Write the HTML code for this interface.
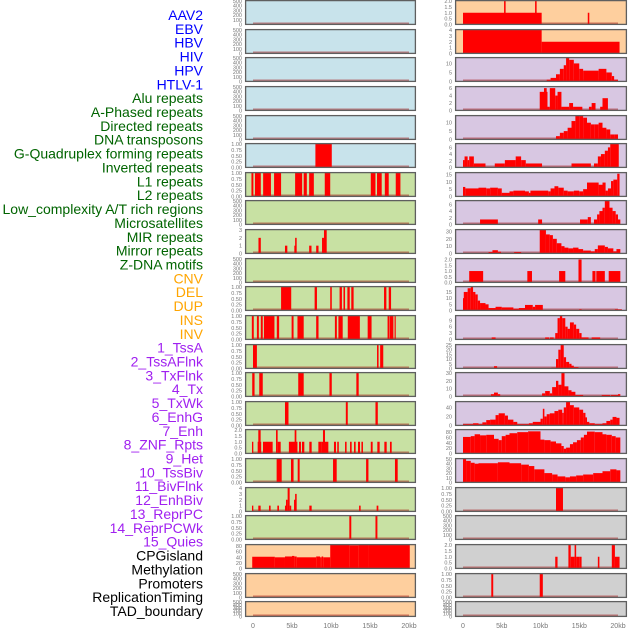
<!DOCTYPE html>
<html><head><meta charset="utf-8">
<style>
html,body{margin:0;padding:0;background:#fff;width:630px;height:630px;overflow:hidden}
svg{display:block}
</style></head>
<body>
<svg id="chart" width="630" height="630" xmlns="http://www.w3.org/2000/svg"></svg>
<script>
const trackLabels = ["AAV2","EBV","HBV","HIV","HPV","HTLV-1","Alu repeats","A-Phased repeats","Directed repeats","DNA transposons","G-Quadruplex forming repeats","Inverted repeats","L1 repeats","L2 repeats","Low_complexity A/T rich regions","Microsatellites","MIR repeats","Mirror repeats","Z-DNA motifs","CNV","DEL","DUP","INS","INV","1_TssA","2_TssAFlnk","3_TxFlnk","4_Tx","5_TxWk","6_EnhG","7_Enh","8_ZNF_Rpts","9_Het","10_TssBiv","11_BivFlnk","12_EnhBiv","13_ReprPC","14_ReprPCWk","15_Quies","CPGisland","Methylation","Promoters","ReplicationTiming","TAD_boundary"];
const labelColors = ["#0000ff","#0000ff","#0000ff","#0000ff","#0000ff","#0000ff","#006400","#006400","#006400","#006400","#006400","#006400","#006400","#006400","#006400","#006400","#006400","#006400","#006400","#ffa500","#ffa500","#ffa500","#ffa500","#ffa500","#a020f0","#a020f0","#a020f0","#a020f0","#a020f0","#a020f0","#a020f0","#a020f0","#a020f0","#a020f0","#a020f0","#a020f0","#a020f0","#a020f0","#a020f0","#000","#000","#000","#000","#000"];

const xTickValues = [0,5,10,15,20];
const xTickLabels = ["0","5kb","10kb","15kb","20kb"];

const T500 = ["0","100","200","300","400","500"];
const T1 = ["0.00","0.25","0.50","0.75","1.00"];
const T2 = ["0.0","0.5","1.0","1.5","2.0"];

const leftBg = ["#c8e3eb","#c8e3eb","#c8e3eb","#c8e3eb","#c8e3eb","#c8e3eb","#c8e1a3","#c8e1a3","#c8e1a3","#c8e1a3","#c8e1a3","#c8e1a3","#c8e1a3","#c8e1a3","#c8e1a3","#c8e1a3","#c8e1a3","#c8e1a3","#c8e1a3","#fecf9e","#fecf9e","#fecf9e"];
const leftYMax = [500,500,500,500,500,1,1,500,3,500,1,1,1,1,1,2,1,4,1,84,500,500];
const leftTicks = [T500,T500,T500,T500,T500,T1,T1,T500,["0","1","2","3"],T500,T1,T1,T1,T1,T1,T2,T1,["0","1","2","3","4"],T1,["0","20","40","60","80"],T500,T500];
const leftSegs = [
 [],[],[],[],[],
 [[8.0,10.1,1]],
 [[-0.2,0.05,1],[0.25,1.0,1],[1.3,2.3,1],[2.7,3.6,1],[5.4,6.3,1],[6.5,6.9,1],[7.2,7.8,1],[9.2,9.9,1],[15.1,15.7,1],[15.9,16.5,1],[16.9,17.4,1],[18.3,18.9,1]],
 [],
 [[0.7,1.0,2],[4.1,4.4,1],[5.3,5.5,1],[5.4,5.6,2],[7.2,7.5,1],[8.1,8.4,1],[8.85,9.1,2],[9.1,9.45,3]],
 [],
 [[3.6,4.9,1],[7.9,8.2,1],[9.9,10.1,1],[11.1,11.4,1],[11.6,11.8,1],[12.1,12.4,1],[12.6,12.9,1],[16.8,17.1,1],[17.4,17.7,1]],
 [[-0.15,0.1,1],[0.5,0.75,1],[1.0,1.25,1],[1.4,2.75,1],[3.05,3.35,1],[4.95,5.2,1],[5.7,6.5,1],[8.1,8.4,1],[10.5,10.75,1],[10.95,11.5,1],[12.15,13.7,1],[14.7,15.2,1],[17.25,17.5,1],[17.55,18.0,1],[18.15,18.3,1]],
 [[0.0,0.5,1],[15.9,16.1,1],[16.3,16.7,1]],
 [[-0.1,0.2,1],[0.8,1.25,1],[5.8,6.5,1],[9.8,10.1,1],[13.25,13.55,1]],
 [[4.1,4.55,1],[11.9,12.15,1],[15.7,16.0,1]],
 [[-0.13,0.04,1],[0.6,1.05,1],[0.68,0.98,2],[1.28,2.52,1],[2.95,3.16,2],[3.16,3.55,1],[4.6,5.7,1],[5.34,5.56,2],[5.9,6.15,1],[6.28,6.58,1],[7.22,7.52,1],[8.38,8.8,1],[8.8,9.66,1],[8.97,9.23,2],[10.38,10.64,1],[10.8,11.0,1],[11.8,12.0,1],[12.44,12.65,1],[12.95,13.16,1],[13.46,13.72,1],[13.9,14.1,1],[15.1,15.34,1],[15.94,16.24,1],[16.84,17.14,1],[17.56,17.78,1]],
 [[3.03,3.68,1],[4.87,5.2,1],[5.73,5.98,1],[10.26,10.73,1],[14.5,14.8,1],[18.2,18.55,1]],
 [[-0.13,0.04,1],[0.68,0.98,1],[2.05,2.26,1],[3.12,3.33,1],[4.1,4.36,1],[4.23,4.44,2],[4.44,4.7,4],[4.7,4.9,1],[5.26,5.5,2],[5.4,5.6,3],[7.22,7.52,1],[13.6,13.8,1],[15.85,16.07,1]],
 [[12.35,12.6,1],[15.7,15.95,1]],
 [[-0.1,2.8,42],[2.8,4.1,40],[4.1,5.0,43],[5.0,5.3,45],[5.3,5.6,43],[5.6,8.1,40],[8.1,8.6,43],[8.6,8.8,40],[8.8,9.0,43],[9.0,9.9,40],[9.9,12.4,85],[12.4,13.5,83],[13.5,14.8,84],[14.8,20.1,85]],
 [],[]
];

const rightBg = ["#fecf9e","#fecf9e","#d8c7e2","#d8c7e2","#d8c7e2","#d8c7e2","#d8c7e2","#d8c7e2","#d8c7e2","#d8c7e2","#d8c7e2","#d8c7e2","#d8c7e2","#d8c7e2","#d8c7e2","#d8c7e2","#d8c7e2","#d0d0d0","#d0d0d0","#d0d0d0","#d0d0d0","#d0d0d0"];
const rightYMax = [2,4,13,6.3,14,7,16,7,32,2.05,19,11,25,30,52,88,50,1,500,2,1,500];
const rightTicks = [T2,["0","1","2","3","4"],["0","5","10"],["0","2","4","6"],["0","5","10"],["0","2","4","6"],["0","5","10","15"],["0","2","4","6"],["0","10","20","30"],T2,["0","5","10","15"],["0","3","6","9"],["0","5","10","15","20","25"],["0","10","20","30"],["0","20","40"],["0","20","40","60","80"],["0","10","20","30","40","50"],T1,T500,T2,T1,T500];
const rightSegs = [
 [[0,10.15,1],[5.3,5.5,2],[9.3,9.5,2],[16.1,16.3,1]],
 [[0,10.15,4],[10.15,20.2,2]],
 [[10.8,11.3,1],[11.3,12,2],[12,12.5,4],[12.5,13,7],[13,13.3,9],[13.3,13.7,13],[13.7,14.3,12],[14.3,15,10],[15,15.5,7],[15.5,16,6],[16,17.5,6],[17.5,18.5,7],[18.5,19.2,5],[19.2,19.5,3],[19.5,20,1]],
 [[9.9,10.9,5],[10.45,10.8,6],[10.9,11.2,1],[11.2,11.9,6],[11.9,12.2,4],[12.2,12.7,5],[12.7,13.7,1],[13.7,14.2,2],[14.2,15.4,1],[16.25,16.6,1],[16.6,17.1,2],[17.7,18.0,1],[18.0,18.7,3.3]],
 [[12,12.5,2],[12.5,13,4],[13,13.5,5],[13.5,14,7],[14,14.5,11],[14.5,15,14],[15,15.5,14],[15.5,16,13],[16,16.5,10],[16.5,17,9],[17,17.5,9],[17.5,18,10],[18,18.5,7],[18.5,19,6],[19,19.5,3],[19.5,20,3]],
 [[0,0.2,2.2],[0.2,0.6,3.3],[0.6,0.8,2.2],[0.8,1.4,3.3],[1.4,2.9,1.2],[4.1,5.4,1.2],[5.4,6.8,2.2],[6.8,7.5,3.3],[7.5,8.1,2.2],[8.1,10.2,1.2],[14.0,16.5,1.2],[16.9,17.4,1.2],[17.4,17.8,3.3],[17.8,18.3,4],[18.3,18.7,5],[18.7,19,6],[19,20.1,7]],
 [[0,0.3,6.5],[0.3,2,5.5],[2,3,6],[3,3.5,5.5],[3.5,4.5,6],[4.5,5,5.5],[5,6,2.5],[6,6.5,3.5],[6.5,8,4],[8,8.5,3.5],[8.5,8.7,2.5],[8.7,11,4],[11,11.3,3.5],[11.3,11.8,5.5],[11.8,12.3,7],[12.3,13,6],[13,13.5,4],[13.5,14.3,3.5],[14.3,15,4],[15,15.5,3.5],[15.5,16,5],[16,17.5,9.5],[17.5,18,8],[18,18.4,9.5],[18.4,18.7,4],[18.7,19.1,5.5],[19.1,19.4,10.5],[19.4,19.9,11.5],[19.9,20.2,15.5]],
 [[2.2,4.5,1.5],[9.7,10.2,1.5],[15.1,16.1,1.5],[16.1,16.5,2.2],[16.9,17.3,1.5],[17.3,17.6,3],[17.6,18.0,4],[18.0,18.3,5],[18.3,18.9,7],[18.9,19.3,5],[19.3,19.7,4],[19.7,20,3],[20,20.3,1.5]],
 [[3.3,3.8,2],[3.8,4.5,4.5],[4.5,4.9,2.5],[6.6,7.5,2],[9.9,10.7,32],[10.7,11.2,26],[11.2,11.6,25],[11.6,12.1,20],[12.1,12.7,14],[12.7,13.1,10],[13.1,13.6,8],[13.6,14.2,7],[14.2,14.9,8],[14.9,15.5,6],[15.5,16.5,4],[16.5,17,3],[17,17.4,6],[17.4,18.3,11],[18.3,18.7,9],[18.7,19.4,7],[19.4,19.8,3],[19.8,20.3,6]],
 [[0.8,2.6,1],[8.3,8.9,1],[12.4,13.2,1],[14.9,15.3,2],[16.7,17.1,1],[17.2,18.3,1],[18.8,20.3,1]],
 [[0,0.1,10],[0.1,0.6,15],[0.6,1.0,18],[1.0,1.3,19],[1.3,1.6,15],[1.6,1.9,13],[1.9,2.2,8],[2.2,2.9,6],[2.9,3.3,5],[3.3,4.2,2],[4.2,5.0,3],[5.0,6.5,2.5],[6.5,7.2,1.5],[7.2,8.0,2],[8.0,9.0,4.5],[9.0,9.3,3],[9.3,10.3,4.5],[15.0,15.3,1],[19.6,20.5,1]],
 [[3.7,4.2,1],[10.6,11.1,1],[11.2,11.7,1],[11.9,12.2,3],[12.2,12.5,10],[12.5,12.8,11],[12.8,13.2,10],[13.2,13.5,6],[13.5,13.8,5],[13.8,14.3,8],[14.3,14.6,7],[14.6,15.0,5],[15.0,15.3,3],[15.3,16.2,1],[16.6,17.7,1]],
 [[4.0,4.4,2.5],[11.4,12.0,1],[12.0,12.3,10],[12.3,12.6,20],[12.6,13.0,25],[13.0,13.3,12],[13.3,13.7,7],[13.7,14.0,5],[14.0,14.3,3],[14.3,14.9,1.5]],
 [[3.6,4.0,3],[4.0,4.5,5],[4.5,4.8,3],[10.2,10.6,4],[10.6,11.2,7],[11.2,11.5,4],[11.5,12.0,12],[12.0,12.3,20],[12.3,12.7,15],[12.7,13.1,30],[13.1,13.6,13],[13.6,14.0,8],[14.0,14.5,6],[14.5,15.5,2],[17.9,19.0,2],[19.1,20.0,2],[20.0,20.3,3]],
 [[0,1.3,3],[1.3,2.0,5],[2.0,2.5,3],[2.5,3.0,7],[3.0,3.5,12],[3.5,4.2,13],[4.2,4.6,23],[4.6,5.4,27],[5.4,5.8,22],[5.8,6.5,13],[6.5,7.0,8],[7.0,8.5,3],[8.5,9.0,5],[9.0,10.0,8],[10.0,10.3,15],[10.3,10.5,37],[10.5,10.8,20],[10.8,11.2,25],[11.2,11.8,27],[11.8,12.3,32],[12.3,12.8,35],[12.8,13.0,28],[13.0,13.3,40],[13.3,13.8,52],[13.8,14.3,45],[14.3,15.0,40],[15.0,15.5,35],[15.5,15.8,28],[15.8,16.0,18],[16.0,16.3,8],[16.3,17.0,5],[17.0,18.0,3],[18.0,18.5,5],[18.5,19.0,10],[19.0,19.3,13],[19.3,19.8,19],[19.8,20.2,17]],
 [[0,1,62],[1,1.5,65],[1.5,2.2,72],[2.2,3.0,68],[3.0,4.0,70],[4.0,4.6,55],[4.6,5.0,50],[5.0,5.5,65],[5.5,6.0,70],[6.0,7.0,76],[7.0,8.4,80],[8.4,10.0,83],[10.0,10.5,52],[10.5,11.3,50],[11.3,12.0,45],[12.0,12.7,38],[12.7,13.0,28],[13.0,13.3,18],[13.3,13.8,22],[13.8,14.2,35],[14.2,14.7,42],[14.7,15.2,50],[15.2,15.6,60],[15.6,16.0,70],[16.0,17.0,82],[17.0,18.0,80],[18.0,18.5,72],[18.5,19.2,70],[19.2,19.7,65],[19.7,20.3,60]],
 [[0,0.4,50],[0.4,1.0,46],[1.0,1.5,42],[1.5,2.0,40],[2.0,4.5,41],[4.5,6.0,43],[6.0,7.5,41],[7.5,8.5,38],[8.5,9.2,35],[9.2,10.5,28],[10.5,11.5,20],[11.5,12.2,17],[12.2,13.2,13],[13.2,13.8,11],[13.8,14.6,13],[14.6,15.5,15],[15.5,16.8,17],[16.8,18.0,20],[18.0,19.0,24],[19.0,19.8,28],[19.8,20.3,26]],
 [[12.0,12.9,1]],
 [],
 [[11.9,12.2,1],[13.6,13.9,2],[13.9,14.4,1],[14.4,14.6,2],[14.6,15.0,1],[15.0,15.3,1],[17.4,17.6,1],[19.2,19.6,2],[19.6,20.2,1]],
 [[3.65,3.9,1],[9.9,10.3,1]],
 []
];

const NS = "http://www.w3.org/2000/svg";
const svg = document.getElementById("chart");
function mk(tag, attrs, parent){ const e=document.createElementNS(NS,tag); for(const k in attrs) e.setAttribute(k,attrs[k]); (parent||svg).appendChild(e); return e; }

// labels
trackLabels.forEach((t,i)=>{
  const e = mk("text",{x:203,y:(15+i*13.86+5).toFixed(1),"text-anchor":"end","font-family":"Liberation Sans, sans-serif","font-size":"14",fill:labelColors[i]});
  e.textContent=t;
  
  
});

const rowTop = i => Math.round(i*28.63);
const rowH = i => i===21 ? 16 : 25;
const cols = [
  {x0:245,x1:416,zero:253,k:7.8,bg:leftBg,ymax:leftYMax,ticks:leftTicks,segs:leftSegs,name:'left'},
  {x0:455,x1:627,zero:463,k:7.75,bg:rightBg,ymax:rightYMax,ticks:rightTicks,segs:rightSegs,name:'right'}
];
cols.forEach((c,ci)=>{
  const xs = kb => c.zero + kb*c.k;
  for(let i=0;i<22;i++){
    const top=rowTop(i), h=rowH(i), bot=top+h;
    const g = mk("g",{});
    
    
    const clipId='clip'+ci+'_'+i;
    const cp=mk("clipPath",{id:clipId},g); mk("rect",{x:c.x0,y:top,width:c.x1-c.x0,height:h},cp);
    mk("rect",{x:c.x0,y:top,width:c.x1-c.x0,height:h,fill:c.bg[i]},g);
    const ys = v => bot - 0.5 - v/c.ymax[i]*(h-1.5);
    const inner = mk("g",{"clip-path":"url(#"+clipId+")"},g);
    mk("rect",{x:xs(0),y:bot-2.5,width:xs(20)-xs(0),height:2,fill:"rgba(160,0,0,0.45)"},inner);
    c.segs[i].forEach(s=>{
      const y=ys(s[2]);
      const r=mk("rect",{x:xs(s[0]).toFixed(2),y:y.toFixed(2),width:Math.max(1,xs(s[1])-xs(s[0])).toFixed(2),height:(bot-y).toFixed(2),fill:"#ff0000"},inner);
      
      
    });
    mk("rect",{x:c.x0+0.6,y:top+0.6,width:c.x1-c.x0-1.2,height:h-1.2,fill:"none",stroke:"#5f5f5f","stroke-width":"1.3"},g);
    const tl=c.ticks[i], n=tl.length;
    tl.forEach((lab,j)=>{
      const v = parseFloat(lab);
      const t=mk("text",{x:c.x0-3,y:(ys(v)+2).toFixed(1),"text-anchor":"end","font-family":"Liberation Sans, sans-serif","font-size":"5.5",fill:"#777"},g);
      t.textContent=lab;
      
      
    });
  }
  xTickValues.forEach((v,j)=>{
    const t=mk("text",{x:xs(v).toFixed(1),y:628,"text-anchor":"middle","font-family":"Liberation Sans, sans-serif","font-size":"7",fill:"#777"});
    t.textContent=xTickLabels[j];
    
    
  });
});
</script>
</body></html>
